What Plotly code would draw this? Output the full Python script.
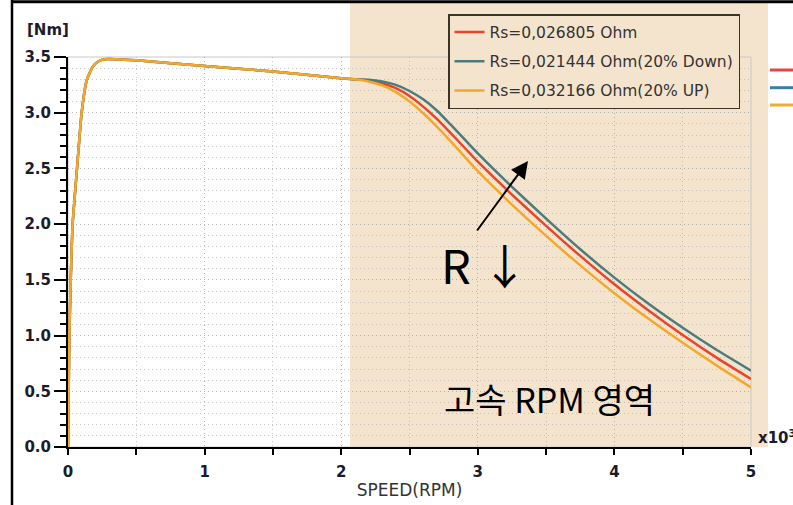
import plotly.graph_objects as go

# ---------------- data ----------------
speed_common = [0, 0.005, 0.01, 0.02, 0.034, 0.066, 0.1, 0.137, 0.18, 0.22, 0.27, 0.35, 0.5, 1.0, 1.5, 2.0]
torque_common = [0, 0.5, 1.0, 1.5, 2.0, 2.5, 3.0, 3.29, 3.41, 3.46, 3.48, 3.48, 3.47, 3.42, 3.37, 3.31]

speed_fw = [2.1, 2.2, 2.3, 2.4, 2.5, 2.6, 2.7, 2.8, 2.9, 3.0, 3.25, 3.5, 3.75, 4.0, 4.25, 4.5, 4.75, 5.0]
torque_rs_nominal = [3.30, 3.29, 3.265, 3.22, 3.15, 3.055, 2.945, 2.82, 2.69, 2.56, 2.265, 1.985, 1.715, 1.46, 1.225, 1.005, 0.80, 0.61]
torque_rs_down = [3.30, 3.295, 3.28, 3.25, 3.195, 3.12, 3.02, 2.895, 2.765, 2.635, 2.335, 2.05, 1.775, 1.52, 1.285, 1.07, 0.87, 0.685]
torque_rs_up = [3.30, 3.28, 3.245, 3.185, 3.10, 2.995, 2.875, 2.745, 2.61, 2.475, 2.175, 1.895, 1.63, 1.38, 1.15, 0.935, 0.73, 0.535]

series_names = ["Rs=0,026805 Ohm", "Rs=0,021444 Ohm(20% Down)", "Rs=0,032166 Ohm(20% UP)"]
series_colors = ["#e8452c", "#4a7c7e", "#f4a82a"]
series_values = [torque_rs_nominal, torque_rs_down, torque_rs_up]

x_tick_vals = [0, 1, 2, 3, 4, 5]
x_tick_text = ["0", "1", "2", "3", "4", "5"]
y_tick_vals = [0.0, 0.5, 1.0, 1.5, 2.0, 2.5, 3.0, 3.5]
y_tick_text = ["0.0", "0.5", "1.0", "1.5", "2.0", "2.5", "3.0", "3.5"]

# ---------------- figure ----------------
W, H = 793, 505
ML, MR, MT, MB = 68, 42, 57, 58
PW, PH = W - ML - MR, H - MT - MB


def px(xp):
    return (xp - ML) / PW


def py(yp):
    return (H - MB - yp) / PH


BEIGE = "#f5e4cd"
GRID = "rgba(165,165,165,0.6)"
TICKFONT = dict(family="DejaVu Sans", size=15, color="#1b1b2b", weight="bold")

fig = go.Figure()
for name, color, vals in zip(series_names, series_colors, series_values):
    fig.add_trace(go.Scatter(
        x=speed_common + speed_fw,
        y=torque_common + vals,
        mode="lines",
        name=name,
        legendgroup=name,
        line=dict(color=color, width=2.5, shape="spline", smoothing=0.5),
    ))

shapes = [
    # high-speed region background
    dict(type="rect", xref="paper", yref="paper", x0=px(350), x1=px(768), y0=0, y1=py(2),
         fillcolor=BEIGE, line=dict(width=0), layer="below"),
    # plot frame (light gray)
    dict(type="rect", xref="paper", yref="paper", x0=0, x1=1, y0=0, y1=1,
         line=dict(color="#c8c8c8", width=1), fillcolor="rgba(0,0,0,0)", layer="below"),
    # outer black border (left + top)
    dict(type="line", xref="paper", yref="paper", x0=px(12), x1=px(12), y0=py(0), y1=py(510),
         line=dict(color="black", width=2.5)),
    dict(type="line", xref="paper", yref="paper", x0=px(11), x1=px(800), y0=py(1.7), y1=py(1.7),
         line=dict(color="black", width=3)),
]
# clipped legend stubs at the right edge
for c, yy in zip(["#e8463a", "#3c7fa5", "#f0ab30"], [70, 87.7, 105]):
    shapes.append(dict(type="line", xref="paper", yref="paper", x0=px(770), x1=px(800),
                       y0=py(yy), y1=py(yy), line=dict(color=c, width=3)))

annotations = [
    dict(text="[Nm]", xref="paper", yref="paper", x=px(48), y=py(30), showarrow=False,
         xanchor="center", yanchor="middle", font=TICKFONT),
    dict(text="x10<sup>3</sup>", xref="paper", yref="paper", x=px(756), y=py(437), showarrow=False,
         xanchor="left", yanchor="middle", font=TICKFONT),
    dict(text="R ↓", xref="paper", yref="paper", x=px(484), y=py(263), showarrow=False,
         xanchor="center", yanchor="middle",
         font=dict(family="Noto Sans CJK KR", size=47, color="black")),
    dict(text="고속 RPM 영역", xref="paper", yref="paper", x=px(549), y=py(398), showarrow=False,
         xanchor="center", yanchor="middle",
         font=dict(family="Noto Sans CJK KR", size=34, color="black")),
    dict(text="", x=(528 - ML) / (PW / 5), y=(H - MB - 161) / (PH / 3.5), xref="x", yref="y",
         showarrow=True, ax=476 - 528, ay=232 - 161, axref="pixel", ayref="pixel",
         arrowhead=2, arrowsize=1.7, arrowwidth=2, arrowcolor="black"),
]

fig.update_layout(
    width=W, height=H, autosize=False,
    margin=dict(l=ML, r=MR, t=MT, b=MB, pad=0, autoexpand=False),
    paper_bgcolor="white", plot_bgcolor="rgba(0,0,0,0)",
    shapes=shapes, annotations=annotations,
    legend=dict(
        x=px(448), y=py(14), xanchor="left", yanchor="top",
        bgcolor=BEIGE, bordercolor="#3a3326", borderwidth=1.5,
        font=dict(family="DejaVu Sans", size=15.5, color="#333333"),
        tracegroupgap=6, itemwidth=30,
    ),
    xaxis=dict(
        range=[0, 5], tickvals=x_tick_vals, ticktext=x_tick_text, automargin=False,
        ticks="outside", ticklen=6, tickwidth=1.5, tickcolor="black",
        showline=True, linecolor="black", linewidth=2,
        showgrid=True, gridcolor=GRID, griddash="1px,3px", gridwidth=1,
        zeroline=False, tickfont=TICKFONT, ticklabelstandoff=4,
        minor=dict(dtick=0.5, tick0=0, ticks="outside", ticklen=6, tickwidth=1.5, tickcolor="black",
                   showgrid=True, gridcolor=GRID, griddash="1px,3px", gridwidth=1),
        title=dict(text="SPEED(RPM)", standoff=4,
                   font=dict(family="DejaVu Sans", size=17, color="#333333")),
    ),
    yaxis=dict(
        range=[0, 3.5], tickvals=y_tick_vals, ticktext=y_tick_text, automargin=False,
        ticks="outside", ticklen=12, tickwidth=1.5, tickcolor="black",
        showline=True, linecolor="black", linewidth=2,
        showgrid=True, gridcolor=GRID, griddash="1px,3px", gridwidth=1,
        zeroline=False, tickfont=TICKFONT,
        minor=dict(dtick=0.1, tick0=0, ticks="outside", ticklen=6, tickwidth=1.5, tickcolor="black",
                   showgrid=True, gridcolor=GRID, griddash="1px,3px", gridwidth=1),
    ),
)

fig.write_html("out.html")
